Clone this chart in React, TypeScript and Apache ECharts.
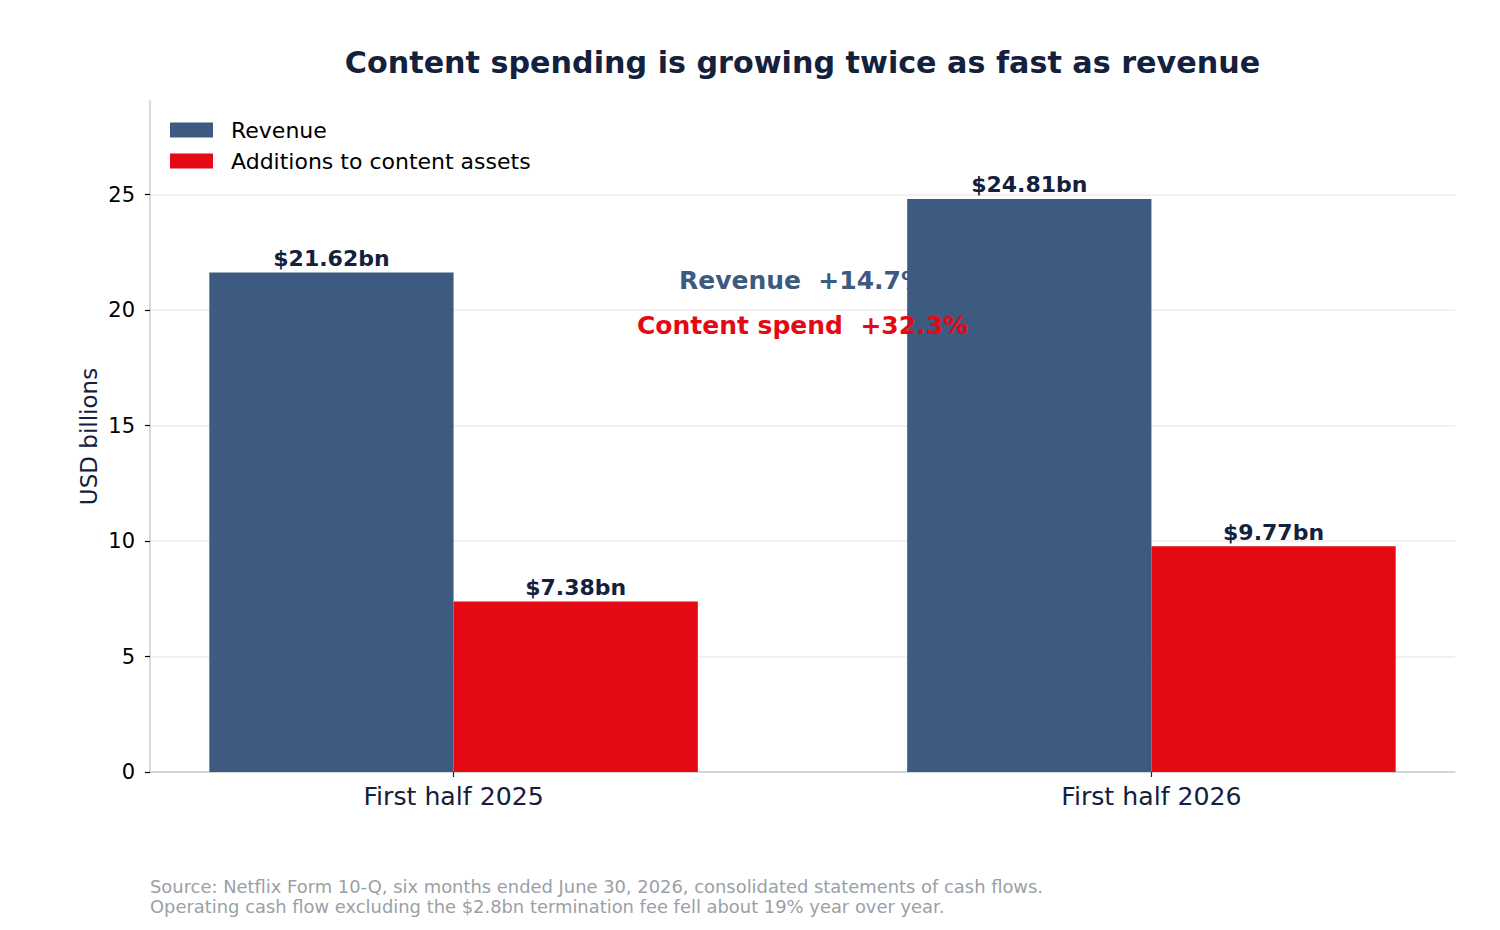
import React, { useEffect, useRef } from 'react';
import * as echarts from 'echarts';

// ---- Data ----
const categories = ['First half 2025', 'First half 2026'];
const categoryPositions = [0, 1];
const seriesNames = ['Revenue', 'Additions to content assets'];
const revenue = [21.62, 24.81];
const contentAdditions = [7.38, 9.77];
const yTickValues = [0, 5, 10, 15, 20, 25];
const growthLabels = ['Revenue  +14.7%', 'Content spend  +32.3%'];
const titleText = 'Content spending is growing twice as fast as revenue';
const footerLines = [
  'Source: Netflix Form 10-Q, six months ended June 30, 2026, consolidated statements of cash flows.',
  'Operating cash flow excluding the $2.8bn termination fee fell about 19% year over year.',
];

// ---- Layout / style ----
const W = 1500;
const H = 930;
const GRID_LEFT = 150;
const GRID_RIGHT = 45;
const GRID_TOP = 101;
const GRID_BOTTOM = 158;
const PLOT_W = W - GRID_LEFT - GRID_RIGHT;
const PLOT_H = H - GRID_TOP - GRID_BOTTOM;
const X_MIN = -0.435;
const X_MAX = 1.435;
const Y_MAX = 29.05;
const TICK_TOP = yTickValues[yTickValues.length - 1];
const GRID2_TOP = GRID_TOP + ((Y_MAX - TICK_TOP) / Y_MAX) * PLOT_H;

const BLUE = '#3d5a80';
const RED = '#e50914';
const NAVY = '#14213d';
const FONT = '"DejaVu Sans", sans-serif';

const xToPx = (v: number) => GRID_LEFT + ((v - X_MIN) / (X_MAX - X_MIN)) * PLOT_W;

export default function App() {
  const ref = useRef<HTMLDivElement>(null);

  useEffect(() => {
    document.body.style.margin = '0';
    if (!ref.current) return;
    const chart = echarts.init(ref.current, undefined, { renderer: 'svg' });

    const labelFmt = (p: any) => `$${Number(p.value[1]).toFixed(2)}bn`;
    const barLabel = {
      show: true,
      position: 'top',
      distance: 3,
      formatter: labelFmt,
      fontSize: 22,
      fontWeight: 'bold',
      color: NAVY,
      fontFamily: FONT,
    };

    const midX = xToPx((categoryPositions[0] + categoryPositions[1]) / 2);

    chart.setOption({
      animation: false,
      backgroundColor: '#ffffff',
      textStyle: { fontFamily: FONT },
      title: {
        text: titleText,
        left: midX,
        textAlign: 'center',
        top: 46,
        padding: 0,
        textStyle: { fontSize: 30.2, fontWeight: 'bold', color: NAVY, fontFamily: FONT, lineHeight: 32 },
      },
      legend: {
        orient: 'vertical',
        left: 170,
        top: 119,
        padding: 0,
        itemWidth: 43,
        itemHeight: 15,
        itemGap: 9,
        icon: 'rect',
        textStyle: { fontSize: 22, color: '#000000', fontFamily: FONT, padding: [0, 0, 0, 13] },
        data: seriesNames,
      },
      grid: [
        { left: GRID_LEFT, right: GRID_RIGHT, top: GRID_TOP, bottom: GRID_BOTTOM },
        { left: GRID_LEFT, right: GRID_RIGHT, top: GRID2_TOP, bottom: GRID_BOTTOM },
      ],
      xAxis: [
        {
          type: 'value',
          gridIndex: 0,
          min: X_MIN,
          max: X_MAX,
          axisLine: { show: true, onZero: false, lineStyle: { color: '#cccccc', width: 1.5 } },
          axisTick: {
            show: true,
            customValues: categoryPositions,
            length: 5,
            lineStyle: { color: NAVY, width: 1.2 },
          },
          axisLabel: {
            customValues: categoryPositions,
            formatter: (v: number) => categories[Math.round(v)] ?? '',
            fontSize: 25.2,
            color: NAVY,
            margin: 12,
            fontFamily: FONT,
          },
          splitLine: { show: false },
        },
        {
          type: 'value',
          gridIndex: 1,
          min: X_MIN,
          max: X_MAX,
          show: false,
        },
      ],
      yAxis: [
        {
          type: 'value',
          gridIndex: 0,
          min: 0,
          max: Y_MAX,
          axisLine: { show: true, onZero: false, lineStyle: { color: '#cccccc', width: 1.5 } },
          axisTick: { show: false },
          axisLabel: { show: false },
          splitLine: { show: false },
          name: 'USD billions',
          nameLocation: 'middle',
          nameGap: 50,
          nameTextStyle: { fontSize: 23, color: NAVY, fontFamily: FONT },
        },
        {
          type: 'value',
          gridIndex: 1,
          min: 0,
          max: TICK_TOP,
          interval: 5,
          axisLine: { show: false, onZero: false },
          axisTick: { show: true, length: 5, lineStyle: { color: '#000000', width: 1.2 } },
          axisLabel: { fontSize: 21, color: '#000000', margin: 15, fontFamily: FONT },
          splitLine: { show: true, lineStyle: { color: '#ececec', width: 1.5 } },
        },
      ],
      series: [
        {
          name: seriesNames[0],
          type: 'bar',
          xAxisIndex: 0,
          yAxisIndex: 0,
          barWidth: '35%',
          barGap: '0%',
          itemStyle: { color: BLUE },
          label: barLabel,
          data: categoryPositions.map((x, i) => [x, revenue[i]]),
          z: 2,
        },
        {
          name: seriesNames[1],
          type: 'bar',
          xAxisIndex: 0,
          yAxisIndex: 0,
          barWidth: '35%',
          barGap: '0%',
          itemStyle: { color: RED },
          label: barLabel,
          data: categoryPositions.map((x, i) => [x, contentAdditions[i]]),
          z: 2,
        },
      ],
      graphic: {
        elements: [
          {
            type: 'text',
            x: midX,
            y: 280,
            z: 1,
            style: {
              text: growthLabels[0],
              textAlign: 'center',
              textVerticalAlign: 'middle',
              font: `bold 25px ${FONT}`,
              fill: BLUE,
            },
          },
          {
            type: 'text',
            x: midX,
            y: 325,
            z: 10,
            style: {
              text: growthLabels[1],
              textAlign: 'center',
              textVerticalAlign: 'middle',
              font: `bold 25px ${FONT}`,
              fill: RED,
            },
          },
          {
            type: 'text',
            x: GRID_LEFT,
            y: 876,
            z: 10,
            style: {
              text: footerLines.join('\n'),
              textAlign: 'left',
              textVerticalAlign: 'top',
              font: `17.9px ${FONT}`,
              lineHeight: 20,
              fill: '#9aa0a6',
            },
          },
        ],
      },
    });

    return () => {
      chart.dispose();
    };
  }, []);

  return <div ref={ref} style={{ width: W, height: H }} />;
}
